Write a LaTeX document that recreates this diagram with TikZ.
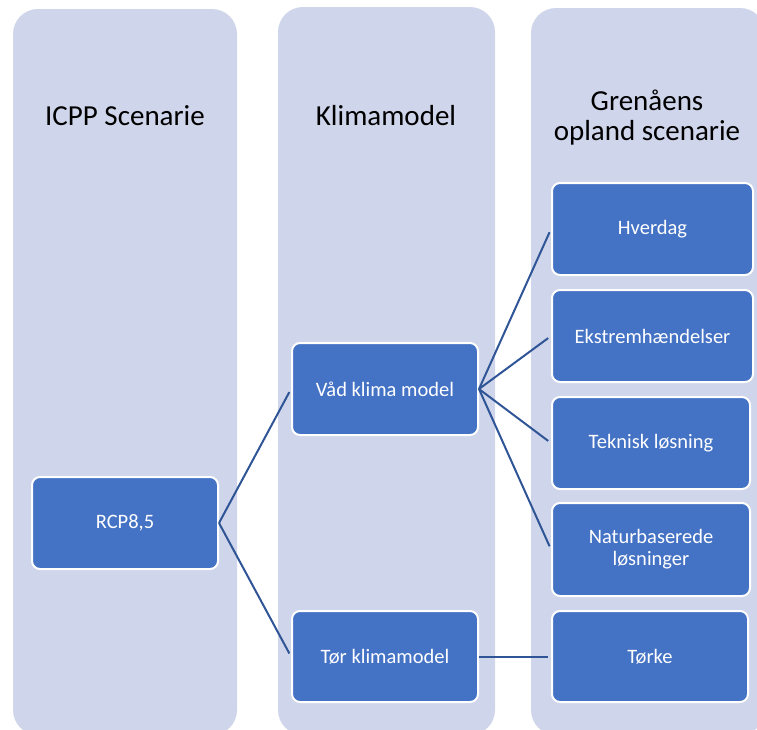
\documentclass[tikz,border=0pt]{standalone}
\usepackage{fontspec}
\setmainfont{Carlito}
\definecolor{colbg}{HTML}{CFD5EA}
\definecolor{boxfill}{HTML}{4472C4}
\definecolor{linkcol}{HTML}{2F5597}
\begin{document}
\begin{tikzpicture}[x=1pt,y=-1pt,
  column/.style={fill=colbg, draw=none, rounded corners=25pt},
  header/.style={font=\fontsize{29}{30}\selectfont, text=black, align=center, inner sep=0pt},
  bluebox/.style={rectangle, rounded corners=8pt, fill=boxfill, draw=white, line width=2pt,
    text=white, font=\fontsize{20.5}{22}\selectfont, align=center, inner sep=0pt,
    minimum height=91pt},
  link/.style={draw=linkcol, line width=2pt, shorten >=3.5pt}]
\useasboundingbox (0,0) rectangle (757,729);
% columns
\fill[column] (13,9) rectangle (237,735);
\fill[column] (278,7) rectangle (495,735);
\fill[column] (531,8) rectangle (765,735);
% headers
\node[header, anchor=base] (h1) at (125,125) {ICPP Scenarie};
\node[header, anchor=base] (h2) at (386,125) {Klimamodel};
\node[header] (h3) at (647,117.5) {Grenåens\\opland scenarie};
% boxes
\node[bluebox, minimum width=186pt, minimum height=92pt] (rcp) at (125,523) {RCP8,5};
\node[bluebox, minimum width=186pt, minimum height=92pt] (vad) at (385,389) {Våd klima model};
\node[bluebox, minimum width=186pt] (tor) at (385,656.5) {Tør klimamodel};
\node[bluebox, minimum width=201pt, minimum height=92pt] (hverdag) at (652.5,229) {Hverdag};
\node[bluebox, minimum width=201pt, minimum height=92pt] (ekstrem) at (652.5,336) {Ekstremhændelser};
\node[bluebox, minimum width=198pt, minimum height=92pt] (teknisk) at (651,443) {Teknisk løsning};
\node[bluebox, minimum width=198pt, minimum height=93pt] (natur) at (651,549.5) {Naturbaserede\\løsninger};
\node[bluebox, minimum width=196pt] (torke) at (650,656.5) {Tørke};
% connectors
\draw[link] (rcp.east) -- (vad.west);
\draw[link] (rcp.east) -- (tor.west);
\draw[link] (vad.east) -- (hverdag.west);
\draw[link] (vad.east) -- (ekstrem.west);
\draw[link] (vad.east) -- (teknisk.west);
\draw[link] (vad.east) -- (natur.west);
\draw[link] (tor.east) -- (torke.west);
\end{tikzpicture}
\end{document}
